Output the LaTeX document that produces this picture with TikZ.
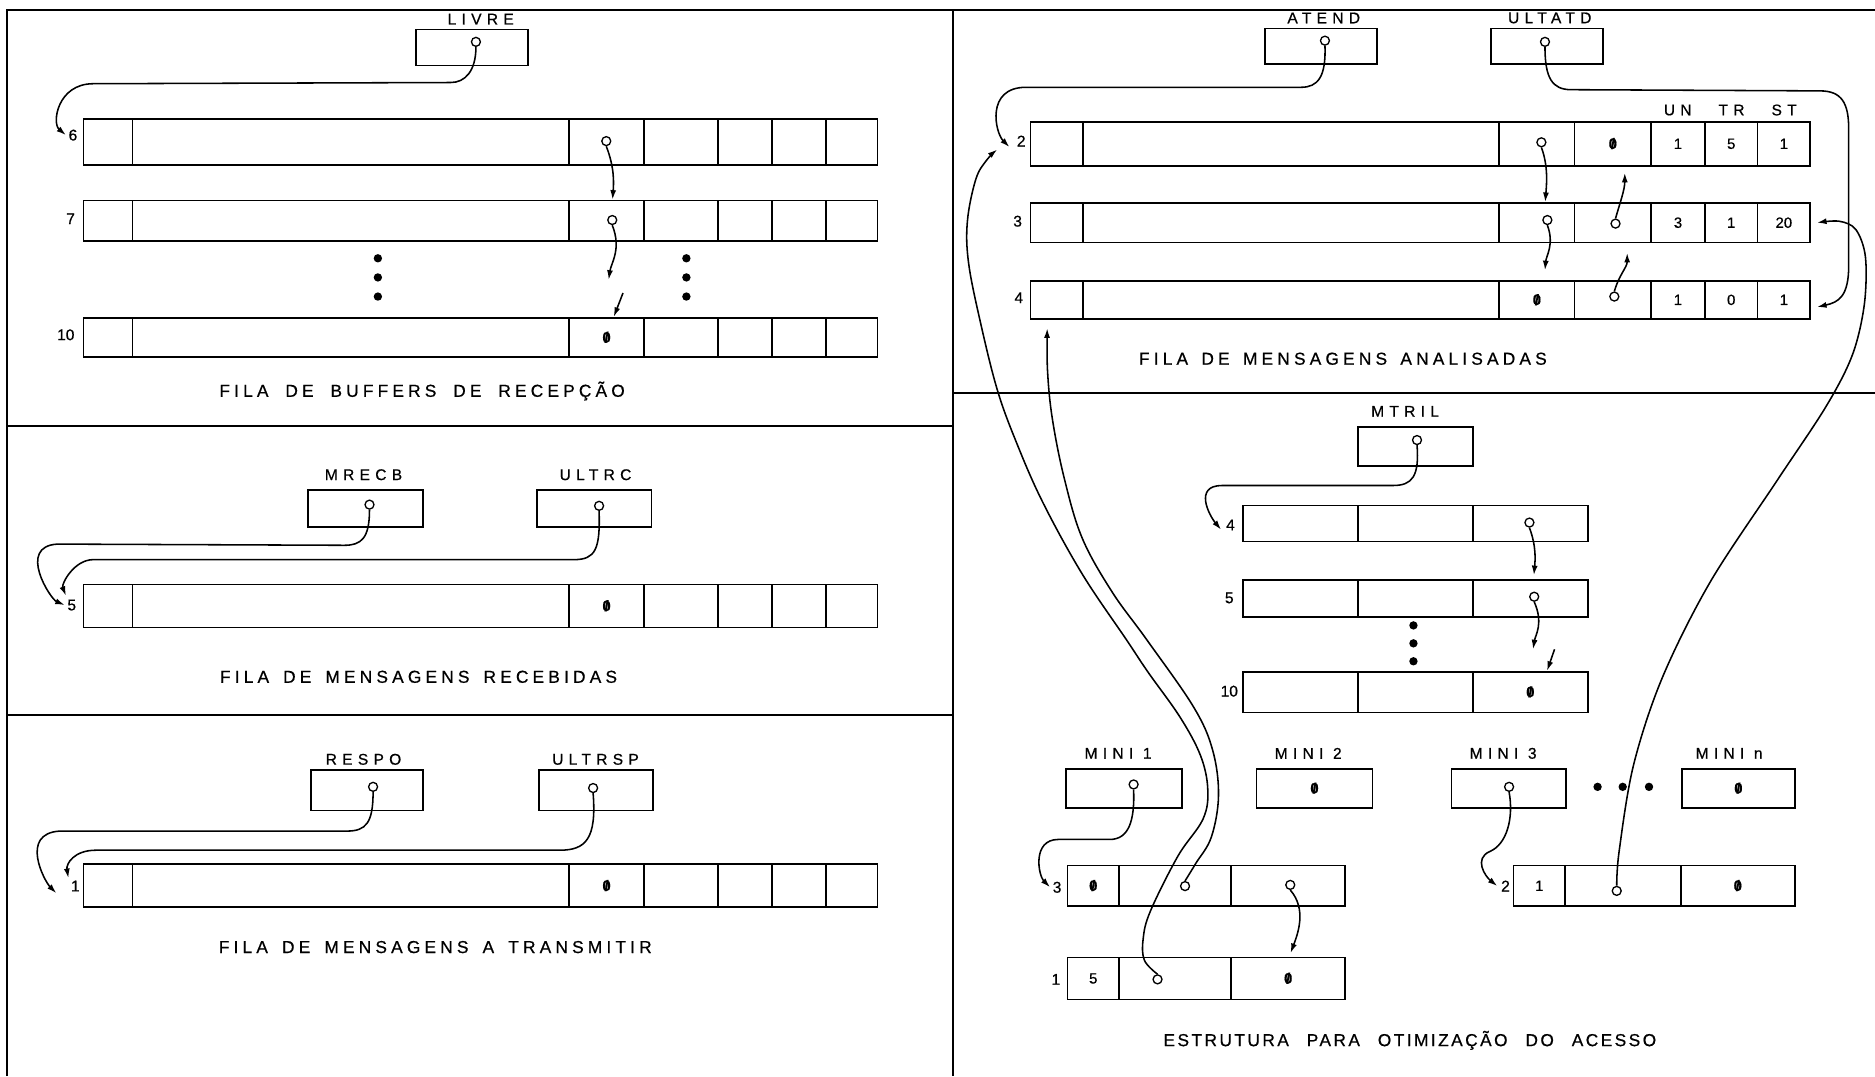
\documentclass[tikz,border=0pt]{standalone}
\usepackage{fontspec}
\usepackage{graphicx}
\setmainfont{Liberation Sans}[FakeBold=0.6]
\newfontfamily\capfont[LetterSpace=24,FakeBold=0.6]{Liberation Sans}
\newfontfamily\capfontb[LetterSpace=14,FakeBold=0.6]{Liberation Sans}
\newfontfamily\lblfont[LetterSpace=34,FakeBold=0.6]{Liberation Sans}
\usetikzlibrary{arrows.meta,calc}
\newcommand\nul{\ooalign{\textbf{0}\cr\hidewidth\textbf{/}\hidewidth\cr}}
\newcommand\mkrow[4]{%
  \foreach \xa/\xb/\tx [count=\ci] in {#4}{%
    \node[cell, minimum width={\xb-\xa}, minimum height={#3-#2}] (#1-\ci) at (\xa,#2) {\tx};
  }}
\begin{document}
\begin{tikzpicture}[x=1pt,y=-1pt,
  cell/.style={draw, line width=1.5pt, inner sep=0pt, anchor=north west, font=\fontsize{12.5}{13}\selectfont},
  ptr/.style={circle, draw, line width=1.1pt, inner sep=0pt, minimum size=7.5pt},
  bdot/.style={circle, fill, inner sep=0pt, minimum size=7pt},
  link/.style={line width=1.3pt, -{Latex[length=8pt,width=5pt]}},
  lbl/.style={font=\lblfont\fontsize{13}{13}\selectfont, inner sep=0pt},
  rlbl/.style={font=\fontsize{13}{13}\selectfont, inner sep=0pt},
  capt/.style={font=\capfont\fontsize{14.5}{15}\selectfont, inner sep=0pt},
  captb/.style={font=\capfontb\fontsize{14.5}{15}\selectfont, inner sep=0pt},
  frame/.style={line width=1.6pt}]
\useasboundingbox (0,0) rectangle (1568,900);
\fill[white] (0,0) rectangle (1568,900);

% ---------------- frame
\coordinate (fTL) at (6,8); \coordinate (fTR) at (1568,8); \coordinate (fBL) at (6,900);
\draw[frame] (fBL) -- (fTL) -- (fTR);
\coordinate (vT) at (797,8); \coordinate (vB) at (797,900);
\draw[frame] (vT) -- (vB);
\coordinate (h1a) at (6,356); \coordinate (h1b) at (797,356);
\draw[frame] (h1a) -- (h1b);
\coordinate (h2a) at (6,598); \coordinate (h2b) at (797,598);
\draw[frame] (h2a) -- (h2b);
\coordinate (h3a) at (797,329); \coordinate (h3b) at (1568,329);
\draw[frame] (h3a) -- (h3b);

% ================= PANEL 1 : buffers de recepcao
\mkrow{livre}{24}{54}{347/441/{}}
\node[lbl] (livre-l) at (402,16) {LIVRE};
\node[ptr] (pl) at (398,35) {};
\mkrow{r6}{99}{137}{69/110/{},110/475/{},475/538/{},538/600/{},600/645/{},645/690/{},690/733/{}}
\mkrow{r7}{167}{201}{69/110/{},110/475/{},475/538/{},538/600/{},600/645/{},645/690/{},690/733/{}}
\mkrow{r10}{265}{298}{69/110/{},110/475/{},475/538/\nul,538/600/{},600/645/{},645/690/{},690/733/{}}
\node[rlbl] (l6) at (61,113) {6};
\node[rlbl] (l7) at (59,183) {7};
\node[rlbl] (l10) at (55,280) {10};
\node[ptr] (p6) at (507,118) {};
\node[ptr] (p7) at (512,184) {};
\foreach \yy [count=\k] in {216,232,248}{
  \node[bdot] (da\k) at (316,\yy) {};
  \node[bdot] (db\k) at (574,\yy) {};}
\draw[link] (pl.south) .. controls +(0,20) and +(12,0) .. (377,69) -- (78,70) .. controls +(-30,0) and +(-12,-10) .. ([xshift=-2pt]l6.west);
\draw[link] (p6.south) .. controls +(7,18) and +(1,-14) .. ([xshift=5pt]r7-3.north);
\coordinate (g7) at (509,234);
\draw[link] (p7.south) .. controls +(8,20) and +(2,-14) .. (g7);
\coordinate (g10) at (521,245);
\draw[link] (g10) -- ([xshift=6pt]r10-3.north);
\node[capt] (cap1) at (353,327) {\makebox[339pt][s]{FILA DE BUFFERS DE RECEPÇÃO}};

% ================= PANEL 2 : mensagens recebidas
\mkrow{mrecb}{409}{440}{257/353/{}}
\mkrow{ultrc}{409}{440}{448/544/{}}
\node[lbl] (mrecb-l) at (304,397) {MRECB};
\node[lbl] (ultrc-l) at (498,397) {ULTRC};
\node[ptr] (pmr) at (309,422) {};
\node[ptr] (pur) at (501,423) {};
\mkrow{r5}{488}{524}{69/110/{},110/475/{},475/538/\nul,538/600/{},600/645/{},645/690/{},690/733/{}}
\node[rlbl] (l5) at (60,506) {5};
\draw[link] (pmr.south) .. controls +(0,24) and +(14,0) .. (288,456) -- (48,455) .. controls +(-34,2) and +(-12,-5) .. ([xshift=-2pt]l5.west);
\draw[link] (pur.south) .. controls +(1,32) and +(18,0) .. (480,468) -- (78,468) .. controls +(-16,0) and +(-4,-10) .. ([xshift=-1pt,yshift=3pt]l5.north west);
\node[capt] (cap2) at (350,566) {\makebox[332pt][s]{FILA DE MENSAGENS RECEBIDAS}};

% ================= PANEL 3 : mensagens a transmitir
\mkrow{respo}{643}{677}{259/353/{}}
\mkrow{ultrsp}{643}{677}{450/545/{}}
\node[lbl] (respo-l) at (304,635) {RESPO};
\node[lbl] (ultrsp-l) at (498,635) {ULTRSP};
\node[ptr] (prs) at (312,658) {};
\node[ptr] (pus) at (496,659) {};
\mkrow{r1}{722}{758}{69/110/{},110/475/{},475/538/\nul,538/600/{},600/645/{},645/690/{},690/733/{}}
\node[rlbl] (l1) at (63,741) {1};
\draw[link] (prs.south) .. controls +(0,26) and +(16,0) .. (290,695) -- (50,695) .. controls +(-34,2) and +(-10,-10) .. ([xshift=-12pt,yshift=-6pt]l1.west);
\draw[link] (pus.south) .. controls +(3,38) and +(22,0) .. (468,711) -- (80,711) .. controls +(-18,0) and +(-2,-12) .. ([xshift=-2pt,yshift=2pt]l1.north west);
\node[capt] (cap3) at (364,792) {\makebox[362pt][s]{FILA DE MENSAGENS A TRANSMITIR}};

% ================= PANEL 4 : mensagens analisadas
\mkrow{atend}{23}{53}{1057/1151/{}}
\mkrow{ultatd}{23}{53}{1246/1340/{}}
\node[lbl] (atend-l) at (1107,15) {ATEND};
\node[lbl] (ultatd-l) at (1296,15) {ULTATD};
\node[ptr] (pat) at (1108,34) {};
\node[ptr] (put) at (1292,35) {};
\node[lbl] (hUN) at (1403,92) {UN};
\node[lbl] (hTR) at (1448,92) {TR};
\node[lbl] (hST) at (1492,92) {ST};
\mkrow{ra2}{101}{138}{861/905/{},905/1253/{},1253/1316/{},1316/1380/\nul,1380/1425/1,1425/1469/5,1469/1513/1}
\mkrow{ra3}{169}{202}{861/905/{},905/1253/{},1253/1316/{},1316/1380/{},1380/1425/3,1425/1469/1,1469/1513/20}
\mkrow{ra4}{234}{266}{861/905/{},905/1253/{},1253/1316/\nul,1316/1380/{},1380/1425/1,1425/1469/0,1469/1513/1}
\node[rlbl] (la2) at (854,118) {2};
\node[rlbl] (la3) at (851,185) {3};
\node[rlbl] (la4) at (852,249) {4};
\node[ptr] (pa2) at (1289,119) {};
\node[ptr] (pa3) at (1294,184) {};
\node[ptr] (pa3b) at (1351,187) {};
\node[ptr] (pa4b) at (1350,248) {};
\draw[link] (pat.south) .. controls +(1,26) and +(14,0) .. (1088,73) -- (858,73) .. controls +(-34,0) and +(-12,-12) .. ([xshift=-6pt,yshift=-5pt]la2.west);
\draw[link] (put.south) .. controls +(0,26) and +(-16,0) .. (1314,75) -- (1522,76) .. controls +(18,0) and +(0,-22) .. (1546,108) -- (1546,222) .. controls +(0,26) and +(18,-4) .. ([xshift=5pt,yshift=-6pt]ra4-7.east);
\draw[link] (pa2.south) .. controls +(6,16) and +(1,-14) .. ([xshift=7pt]ra3-3.north);
\coordinate (ga3) at (1292,226);
\draw[link] (pa3.south) .. controls +(6,16) and +(1,-12) .. (ga3);
\draw[link] (pa3b.north) .. controls +(4,-14) and +(0,14) .. ([xshift=10pt,yshift=-5pt]ra2-4.south);
\draw[link] (pa4b.north) .. controls +(4,-14) and +(0,12) .. ([xshift=12pt,yshift=-8pt]ra3-4.south);
\node[capt] (cap4) at (1123,300) {\makebox[341pt][s]{FILA DE MENSAGENS ANALISADAS}};

% ================= PANEL 5 : estrutura para otimizacao
\mkrow{mtril}{356}{389}{1135/1231/{}}
\node[lbl] (mtril-l) at (1175,344) {MTRIL};
\node[ptr] (pmt) at (1185,368) {};
\mkrow{m4}{422}{452}{1039/1135/{},1135/1231/{},1231/1327/{}}
\mkrow{m5}{484}{515}{1039/1135/{},1135/1231/{},1231/1327/{}}
\mkrow{m10}{561}{595}{1039/1135/{},1135/1231/{},1231/1327/\nul}
\node[rlbl] (lm4) at (1029,439) {4};
\node[rlbl] (lm5) at (1028,500) {5};
\node[rlbl] (lm10) at (1028,578) {10};
\node[ptr] (pm4) at (1279,437) {};
\node[ptr] (pm5) at (1283,499) {};
\foreach \yy [count=\k] in {523,538,553}{\node[bdot] (dc\k) at (1182,\yy) {};}
\draw[link] (pmt.south) .. controls +(2,26) and +(16,0) .. (1165,406) -- (1022,406) .. controls +(-24,0) and +(-10,-12) .. ([xshift=-4pt,yshift=-4pt]lm4.west);
\draw[link] (pm4.south) .. controls +(6,16) and +(1,-12) .. ([xshift=3pt,yshift=3pt]m5-3.north);
\coordinate (gm5) at (1282,543);
\draw[link] (pm5.south) .. controls +(8,18) and +(2,-12) .. (gm5);
\coordinate (gm10) at (1300,543);
\draw[link] (gm10) -- ([xshift=14pt]m10-3.north);

\mkrow{mini1}{642}{675}{891/988/{}}
\mkrow{mini2}{642}{675}{1050/1147/\nul}
\mkrow{mini3}{642}{675}{1213/1309/{}}
\mkrow{minin}{642}{675}{1406/1500/\nul}
\node[lbl] (mini1-l) at (935,630) {MINI 1};
\node[lbl] (mini2-l) at (1094,630) {MINI 2};
\node[lbl] (mini3-l) at (1257,630) {MINI 3};
\node[lbl] (minin-l) at (1446,630) {MINI n};
\node[ptr] (pmi1) at (948,656) {};
\node[ptr] (pmi3) at (1262,658) {};
\foreach \xx [count=\k] in {1336,1357,1379}{\node[bdot] (dd\k) at (\xx,658) {};}

\mkrow{rc3}{723}{757}{892/935/\nul,935/1029/{},1029/1124/{}}
\mkrow{rc1}{800}{835}{892/935/5,935/1029/{},1029/1124/\nul}
\mkrow{rc2}{723}{757}{1265/1308/1,1308/1405/{},1405/1500/\nul}
\node[rlbl] (lr3) at (884,742) {3};
\node[rlbl] (lr1) at (883,819) {1};
\node[rlbl] (lr2) at (1259,741) {2};
\node[ptr] (pr3) at (991,741) {};
\node[ptr] (pr3c) at (1079,740) {};
\node[ptr] (pr1) at (968,819) {};
\node[ptr] (pr2) at (1352,745) {};

\draw[link] (pmi1.south) .. controls +(1,26) and +(16,0) .. (928,702) -- (885,702) .. controls +(-22,0) and +(-10,-10) .. ([xshift=-2pt]lr3.west);
\draw[link] (pr3c.south) .. controls +(14,16) and +(6,-16) .. ([xshift=2pt,yshift=3pt]rc1-3.north);
\draw[link] (pmi3.south) .. controls +(4,22) and +(14,-6) .. (1246,712) .. controls +(-14,6) and +(-10,-8) .. ([xshift=-3pt]lr2.west);

% long pointers into the analysed queue
\draw[link] plot[smooth, tension=0.6] coordinates {(pr1.north) (957,803) (956,785) (962,762) (985,716) (1006,685) (1010,660) (1004,632) (987,600) (960,562) (942,535) (905,480) (872,420) (850,370) (834,326) (820,270) (810,220) (809,185) (816,150) (825,134) ([xshift=-20pt,yshift=-7pt]la2.center)};
\draw[link] plot[smooth, tension=0.6] coordinates {(pr3.north) (1000,722) (1013,700) (1019,665) (1014,627) (998,591) (959,535) (930,495) (905,450) (890,400) (880,350) (876,310) ([xshift=-8pt,yshift=-7pt]ra4-1.south)};
\draw[link] plot[smooth, tension=0.55] coordinates {(pr2.north) (1354,712) (1366,640) (1390,567) (1430,487) (1486,402) (1527,340) (1549,297) (1559,255) (1560,215) (1552,192) (1538,185) ([xshift=5pt]ra3-7.east)};

\node[captb] (cap5) at (1179,870) {\makebox[412pt][s]{ESTRUTURA PARA OTIMIZAÇÃO DO ACESSO}};
\end{tikzpicture}
\end{document}
